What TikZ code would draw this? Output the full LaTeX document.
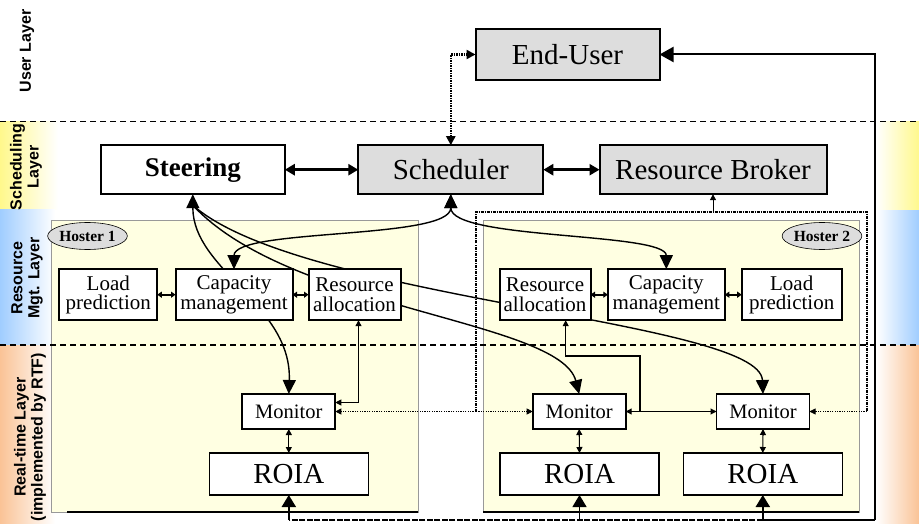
\documentclass[tikz,border=0pt]{standalone}
\usepackage{fontspec}
\setmainfont{Liberation Serif}
\setsansfont{Liberation Sans}
\usetikzlibrary{arrows.meta,shapes.geometric,calc}
\pgfdeclarelayer{bg}
\pgfdeclarelayer{mid}
\pgfsetlayers{bg,mid,main}
\definecolor{bandY}{RGB}{255,248,140}
\definecolor{bandB}{RGB}{160,205,255}
\definecolor{bandO}{RGB}{250,195,150}
\definecolor{hostfill}{RGB}{255,255,226}
\definecolor{boxgray}{RGB}{221,221,221}
\begin{document}
\begin{tikzpicture}[x=1pt,y=-1pt,
  box/.style={draw=black,line width=2pt,fill=white,inner sep=0pt,outer sep=0pt,align=center},
  bigbox/.style={box,font=\fontsize{29}{30}\selectfont},
  rmbox/.style={box,minimum height=51pt,font=\fontsize{21}{19.5}\selectfont},
  monbox/.style={box,line width=1.7pt,minimum width=93pt,minimum height=35pt,font=\fontsize{20.5}{22}\selectfont},
  roiabox/.style={box,line width=1.6pt,minimum width=159pt,minimum height=42pt,font=\fontsize{29}{30}\selectfont},
  hostbox/.style={fill=hostfill,draw=gray!80,line width=0.6pt},
  hostlbl/.style={ellipse,draw=black,line width=0.6pt,fill=boxgray,inner sep=0pt,minimum width=73pt,minimum height=27pt,font=\bfseries\fontsize{15.5}{16}\selectfont},
  laylbl/.style={rotate=90,align=center,font=\sffamily\bfseries\fontsize{16}{17}\selectfont},
  layline/.style={line width=1.6pt,dash pattern=on 6pt off 4pt},
  curve/.style={line width=1.4pt},
  bigtwo/.style={arrows={Triangle[length=14pt,width=13pt]-Triangle[length=14pt,width=13pt]}},
  bigend/.style={arrows={-Triangle[length=14pt,width=13pt]}},
  thicktwo/.style={line width=3pt,arrows={Triangle[length=10pt,width=11pt]-Triangle[length=10pt,width=11pt]}},
  smalltwo/.style={line width=1.6pt,arrows={Triangle[length=4.5pt,width=6pt]-Triangle[length=4.5pt,width=6pt]}},
  thintwo/.style={line width=1.1pt,arrows={Triangle[length=6pt,width=6pt]-Triangle[length=6pt,width=6pt]}},
  thinend/.style={line width=1.1pt,arrows={-Triangle[length=6pt,width=6pt]}},
  dotend/.style={line width=0.8pt,dash pattern=on 1.2pt off 1.2pt,arrows={-Triangle[length=6pt,width=6pt]}},
  grp/.style={line width=1.6pt,dash pattern=on 3pt off 1pt on 1pt off 1pt},
  uptip/.style={arrows={-Triangle[length=12pt,width=14pt]}}
]
\useasboundingbox (0,0) rectangle (919,524);

% ---- scheduling layer
\node[bigbox,minimum width=184pt,minimum height=49pt,font=\bfseries\fontsize{27}{30}\selectfont] (steer) at (192.8,169.7) {Steering};
\node[bigbox,fill=boxgray,minimum width=185pt,minimum height=49pt] (sch) at (450.8,169.7) {Scheduler};
\node[bigbox,fill=boxgray,minimum width=227pt,minimum height=49pt] (rb) at (713,169.7) {Resource Broker};
\node[bigbox,fill=boxgray,minimum width=184pt,minimum height=51pt] (eu) at (567.5,54.5) {End-User};

% ---- resource mgt layer
\node[rmbox,minimum width=98pt] (lp1) at (108.3,294.7) {Load\\prediction};
\node[rmbox,minimum width=117pt] (cm1) at (234,294.7) {Capacity\\management};
\node[rmbox,minimum width=92pt] (ra1) at (354.5,294.7) {Resource\\allocation};
\node[rmbox,minimum width=91pt] (ra2) at (545,294.7) {Resource\\allocation};
\node[rmbox,minimum width=117pt] (cm2) at (666.3,294.7) {Capacity\\management};
\node[rmbox,minimum width=100pt] (lp2) at (791.7,294.7) {Load\\prediction};

% ---- real-time layer
\node[monbox] (mon1) at (288.8,411.5) {Monitor};
\node[monbox] (mon2) at (579.2,411.5) {Monitor};
\node[monbox] (mon3) at (763,411.5) {Monitor};
\node[roiabox] (roia1) at (288.8,474) {ROIA};
\node[roiabox] (roia2) at (579.5,474) {ROIA};
\node[roiabox] (roia3) at (762.8,474) {ROIA};

\node[hostlbl] (h1) at (87.5,236) {Hoster 1};
\node[hostlbl] (h2) at (822,236) {Hoster 2};

% ---- layer labels
\node[laylbl] (lu) at (27,51) {User Layer};
\node[laylbl] (ls) at (26,167) {Scheduling\\Layer};
\node[laylbl] (lr) at (27,278) {Resource\\Mgt. Layer};
\node[laylbl] (lt) at (30,437) {Real-time Layer\\(implemented by RTF)};

% ---- coordinates
\coordinate (sb) at ([yshift=-11pt]steer.south);
\coordinate (gl) at (476,411.5);
\coordinate (gtl) at (476,212);
\coordinate (gtr) at (867,212);
\coordinate (gr) at (867,411.5);
\coordinate (j) at (640,411.5);
\coordinate (k) at (640,356);
\coordinate (br) at (875,520);
\coordinate (b1) at (roia1.south |- br);
\coordinate (b2) at (roia2.south |- br);
\coordinate (b3) at (roia3.south |- br);

\begin{pgfonlayer}{bg}
  \shade[left color=bandY,right color=white] (0,122) rectangle (58,210);
  \shade[left color=bandB,right color=white] (0,210) rectangle (55,345);
  \shade[left color=bandO,right color=white] (0,345) rectangle (55,524);
  \shade[left color=white,right color=bandY] (876,122) rectangle (919,211);
  \shade[left color=white,right color=bandB] (876,211) rectangle (919,345);
  \shade[left color=white,right color=bandO] (876,345) rectangle (919,524);
  \filldraw[hostbox] (51,220) rectangle (418,512);
  \filldraw[hostbox] (483,220) rectangle (859,512);
  \draw[line width=1.5pt] (67,512) -- (418,512);
  \draw[line width=1.5pt] (483,512) -- (859,512);
\end{pgfonlayer}

\begin{pgfonlayer}{mid}
  \draw[layline] (0,121.5) -- (919,121.5);
  \draw[layline] (0,345) -- (919,345);
  % steering -> monitors
  \draw[curve,bigtwo] (steer.south) .. controls (193,270) and (292,305) .. (mon1.north);
  \draw[curve,bigend] (sb) .. controls (290,310) and (560,320) .. (mon2.north);
  \draw[curve,bigend] (sb) .. controls (300,300) and (760,320) .. (mon3.north);
  % scheduler -> capacity management
  \draw[curve,bigtwo] (sch.south) .. controls (450.8,240) and (234,228) .. (cm1.north);
  \draw[curve,bigtwo] (sch.south) .. controls (450.8,240) and (666.3,232) .. (cm2.north);
  % scheduling layer links
  \draw[thicktwo] (steer.east) -- (sch.west);
  \draw[thicktwo] (sch.east) -- (rb.west);
  \draw[line width=2.5pt,dash pattern=on 1.5pt off 1pt,arrows={Triangle[length=9pt,width=9pt]-Triangle[length=9pt,width=9pt]}] (sch.north) |- (eu.west);
  \draw[line width=2pt,arrows={-Triangle[length=14pt,width=15pt]}] (br) |- (eu.east);
  % resource mgt neighbours
  \draw[smalltwo] (lp1.east) -- (cm1.west);
  \draw[smalltwo] (cm1.east) -- (ra1.west);
  \draw[smalltwo] (ra2.east) -- (cm2.west);
  \draw[smalltwo] (cm2.east) -- (lp2.west);
  % hoster 2 group
  \draw[grp] (gl) -- (gtl) -- (gtr) -- (gr);
  \draw[line width=1pt,arrows={-Triangle[length=6pt,width=6pt]}] (rb.south |- gtl) -- (rb.south);
  \draw[dotend] (gl) -- (mon1.east);
  \draw[dotend] (gl) -- (mon2.west);
  \draw[dotend] (gr) -- (mon3.east);
  % allocation -> monitor
  \draw[thintwo] ([xshift=4pt]ra1.south) |- ([yshift=9pt]mon1.east);
  \draw[thintwo] (mon2.east) -- (mon3.west);
  \draw[thinend] (j) -- (k) -| ([xshift=20.7pt]ra2.south);
  % monitor <-> roia
  \draw[thintwo] (mon1.south) -- (roia1.north);
  \draw[thintwo] (mon2.south) -- (roia2.north);
  \draw[thintwo] (mon3.south) -- (roia3.north);
  % bottom feedback
  \draw[line width=2pt] (br) -- (b3);
  \draw[line width=2pt,dash pattern=on 6pt off 1.5pt] (b3) -- (b1);
  \draw[line width=2pt,uptip] (b1) -- (roia1.south);
  \draw[line width=1.2pt,uptip] (b2) -- (roia2.south);
  \draw[line width=2pt,uptip] (b3) -- (roia3.south);
\end{pgfonlayer}
\end{tikzpicture}
\end{document}
